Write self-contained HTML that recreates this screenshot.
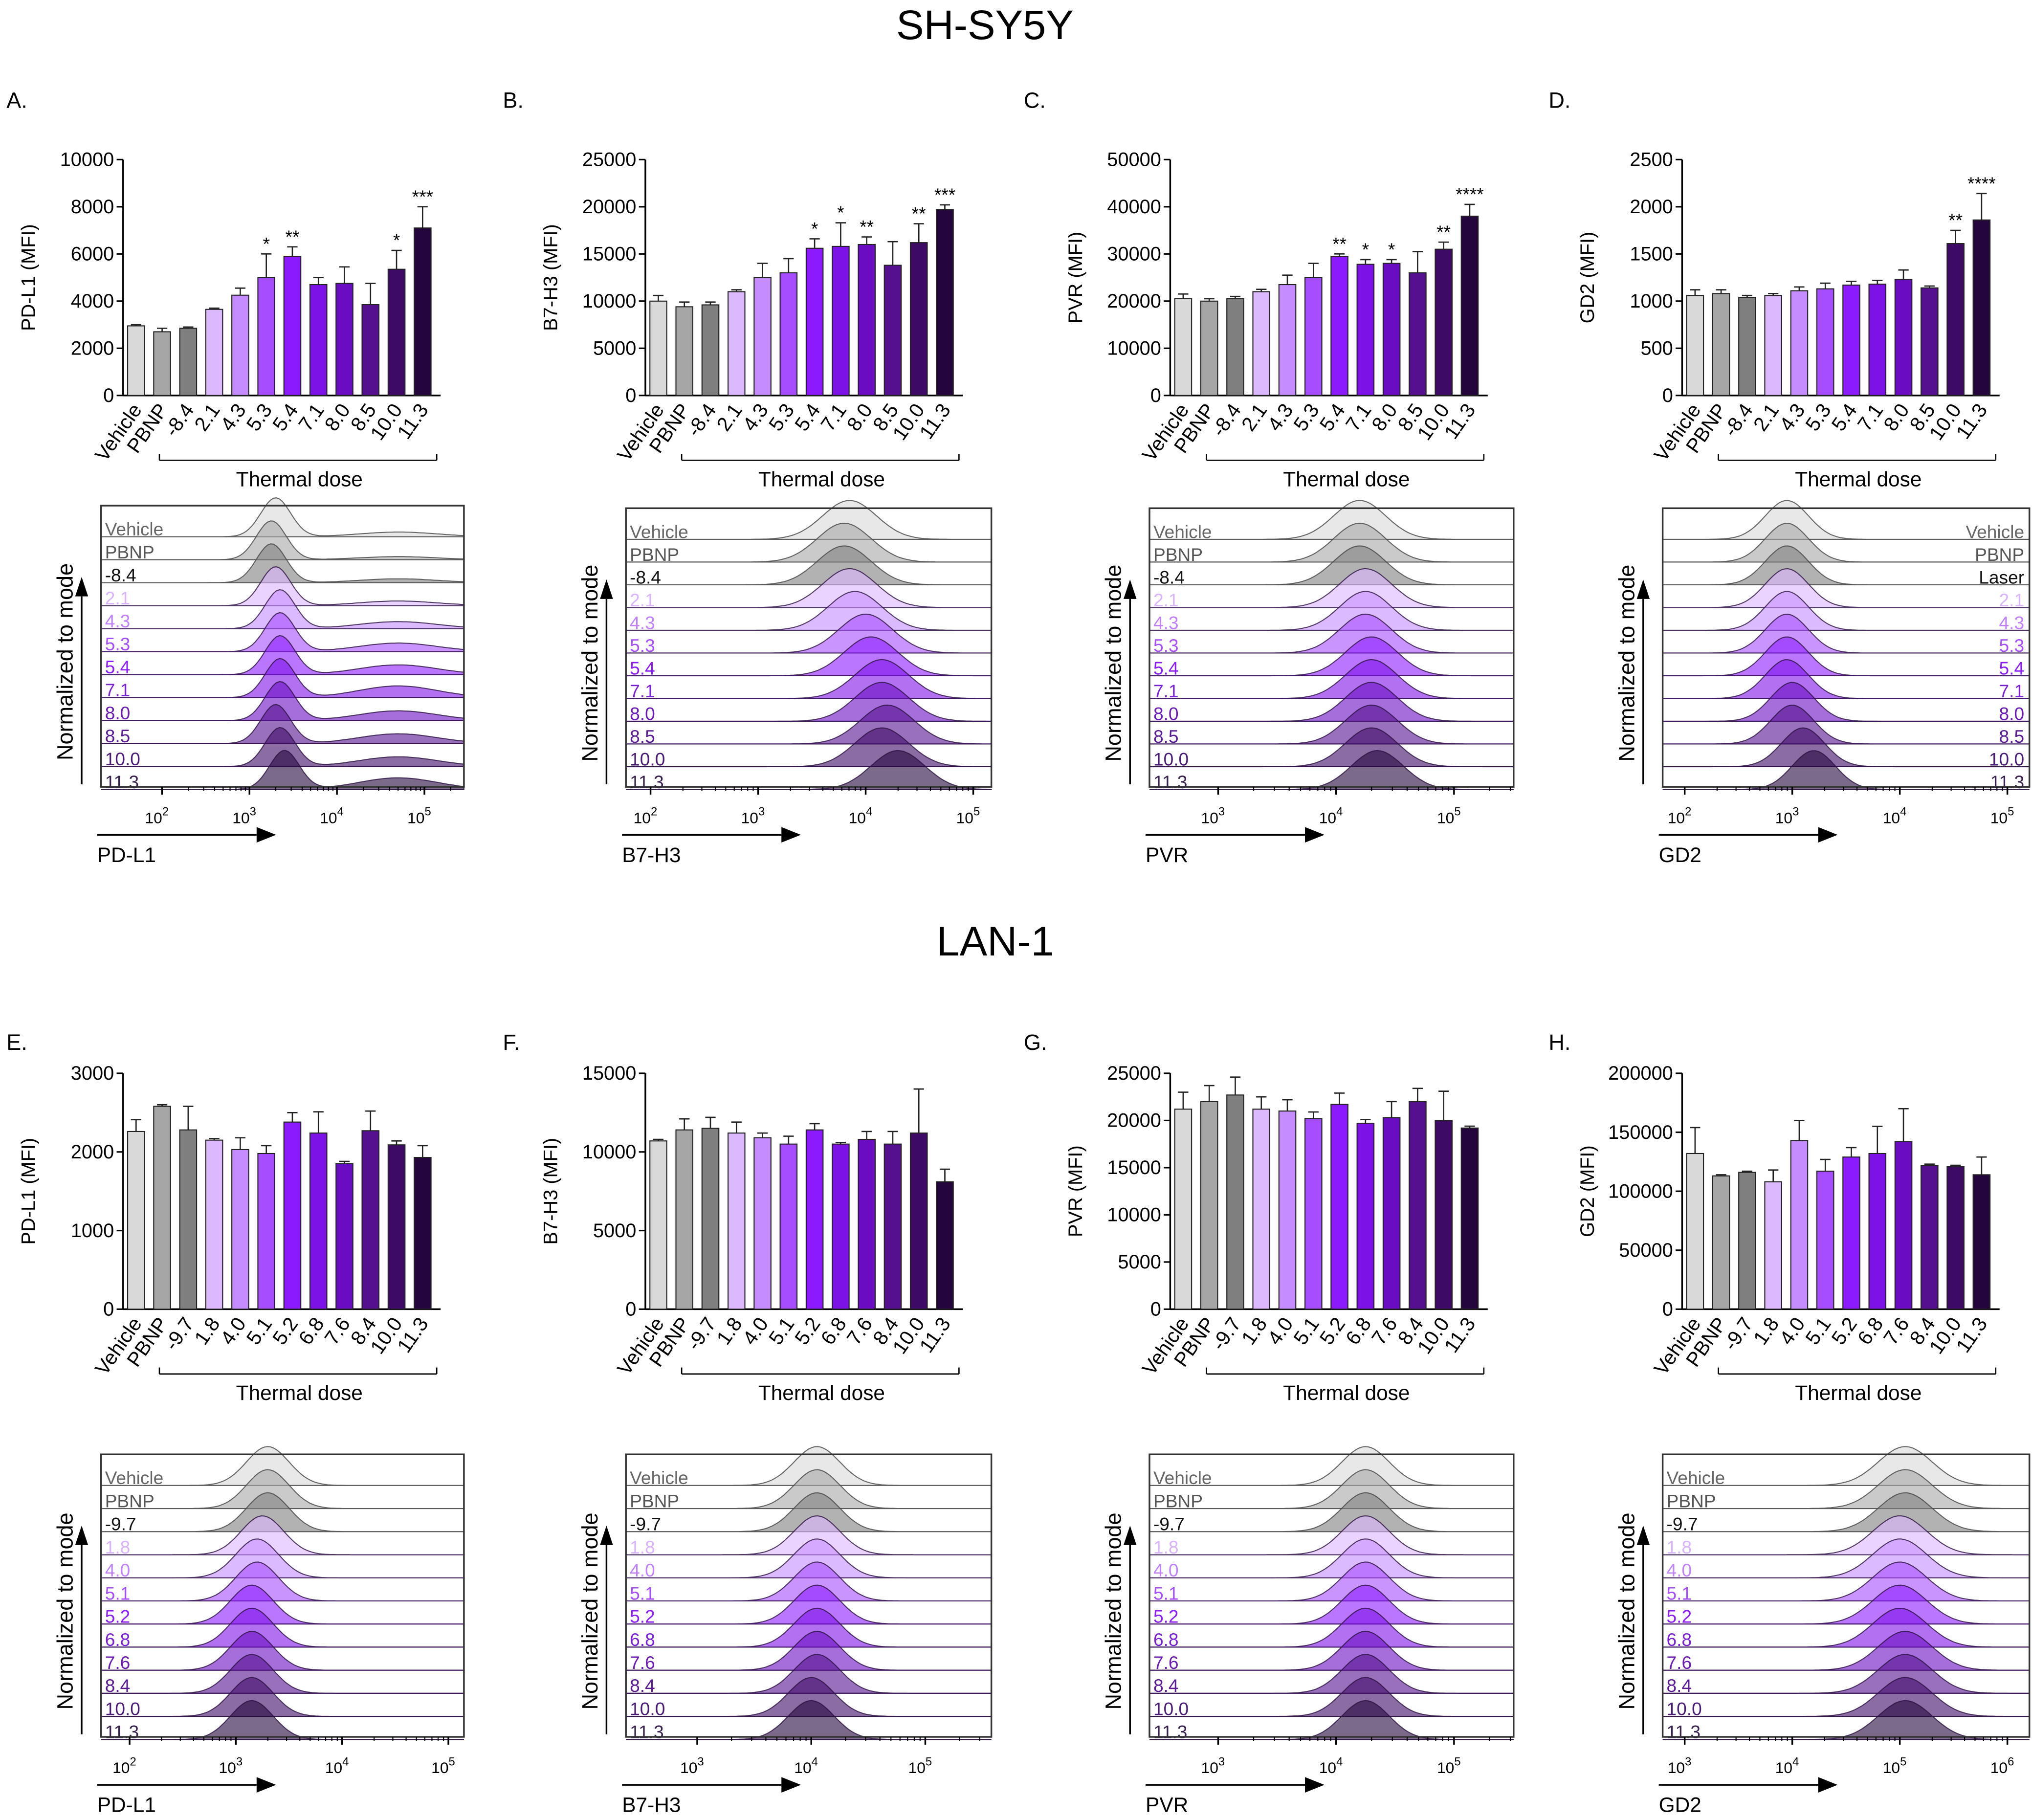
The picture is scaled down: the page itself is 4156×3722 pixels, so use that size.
<!DOCTYPE html>
<html><head><meta charset="utf-8"><style>
html,body{margin:0;padding:0;background:#fff}
svg{display:block}
text{font-family:"Liberation Sans",Arial,sans-serif}
</style></head><body>
<svg id="fig" xmlns="http://www.w3.org/2000/svg" width="4156" height="3722" viewBox="0 0 1568 1404">
<rect width="1568" height="1404" fill="#fff"/>
<text x="760" y="30" font-size="32" text-anchor="middle">SH-SY5Y</text>
<text x="768" y="737" font-size="32" text-anchor="middle">LAN-1</text>
<g id="root"></g>
</svg>
<script>
const catsTop=["Vehicle","PBNP","-8.4","2.1","4.3","5.3","5.4","7.1","8.0","8.5","10.0","11.3"];
const catsBot=["Vehicle","PBNP","-9.7","1.8","4.0","5.1","5.2","6.8","7.6","8.4","10.0","11.3"];
const valsA=[2950,2700,2850,3650,4250,5000,5900,4700,4750,3850,5350,7100];
const errA=[50,150,50,50,300,1000,400,300,700,900,800,900];
const starsA=["","","","","","*","**","","","","*","***"];
const valsB=[10000,9400,9600,11000,12500,13000,15600,15800,16000,13800,16200,19700];
const errB=[600,500,300,200,1500,1500,1000,2500,800,2500,2000,500];
const starsB=["","","","","","","*","*","**","","**","***"];
const valsC=[20500,20000,20500,22000,23500,25000,29500,27800,28000,26000,31000,38000];
const errC=[1000,500,500,500,2000,3000,500,1000,800,4500,1500,2500];
const starsC=["","","","","","","**","*","*","","**","****"];
const valsD=[1060,1080,1040,1060,1110,1130,1170,1180,1230,1140,1610,1860];
const errD=[60,40,20,20,40,60,40,40,100,20,140,280];
const starsD=["","","","","","","","","","","**","****"];
const valsE=[2260,2580,2280,2150,2030,1980,2380,2240,1850,2270,2090,1930];
const errE=[150,20,300,20,150,100,120,270,30,250,50,150];
const valsF=[10700,11400,11500,11200,10900,10500,11400,10500,10800,10500,11200,8100];
const errF=[100,700,700,700,300,500,400,100,500,800,2800,800];
const valsG=[21200,22000,22700,21200,21000,20200,21700,19700,20300,22000,20000,19200];
const errG=[1800,1700,1900,1300,1200,700,1200,400,1700,1400,3100,200];
const valsH=[132000,113000,116000,108000,143000,117000,129000,132000,142000,122000,121000,114000];
const errH=[22000,1000,1000,10000,17000,10000,8000,23000,28000,1000,1000,15000];
const noStars=["","","","","","","","","","","",""];
// histogram peak positions (log10 MFI) per row
const peakA=[3.3,3.25,3.25,3.3,3.35,3.35,3.35,3.35,3.35,3.3,3.35,3.4];
const shoulderA=[0.12,0.08,0.1,0.12,0.18,0.22,0.25,0.3,0.25,0.25,0.25,0.3];
const peakB=[3.85,3.8,3.8,3.85,3.9,4.0,4.05,4.15,4.15,4.2,4.15,4.3];
const peakC=[4.2,4.2,4.2,4.25,4.25,4.25,4.3,4.3,4.3,4.3,4.3,4.35];
const peakD=[2.95,2.95,2.95,2.95,2.95,2.95,2.95,2.95,3.0,3.0,3.1,3.2];
const peakE=[3.3,3.3,3.3,3.25,3.2,3.2,3.15,3.15,3.15,3.15,3.15,3.15];
const peakF=[4.05,4.05,4.05,4.05,4.05,4.05,4.05,4.05,4.05,4.05,4.0,4.0];
const peakG=[4.25,4.25,4.25,4.25,4.25,4.25,4.25,4.25,4.25,4.25,4.25,4.25];
const peakH=[5.05,5.05,5.05,5.0,5.0,5.0,5.0,5.0,5.05,5.05,5.05,5.05];
const zeros=[0,0,0,0,0,0,0,0,0,0,0,0];

const pal=['#d9d9d9','#a6a6a6','#7f7f7f','#dcb8ff','#c58cff','#a64dff','#8c1aff','#7d12e6','#6a0dc2','#55108f','#3d0a66','#24063d'];
const lblCol=['#666','#555','#111','#d9b3ff','#c080ff','#a64dff','#8c1aff','#7a1fd6','#6a1bb5','#5a1a96','#4a1a78','#38204f'];
const NS="http://www.w3.org/2000/svg";
const root=document.getElementById('root');
function mk(tag,attrs,parent,txt){const e=document.createElementNS(NS,tag);for(const k in attrs)e.setAttribute(k,attrs[k]);if(txt!==undefined)e.textContent=txt;(parent||root).appendChild(e);return e;}

function barChart(letter,lx,ly,ax,top,max,nt,vals,errs,stars,cats,ytitle){
  const g=mk('g',{});
  
  
  const H=182,bottom=top+H;
  const y=v=>bottom-v/max*H;
  const cx=i=>ax+10+i*20.1;
  const L=mk('text',{x:lx,y:ly,'font-size':17},g,letter+'.');
  
  
  for(let t=0;t<=nt;t++){
    const v=max/nt*t;
    mk('line',{x1:ax-5,x2:ax,y1:y(v),y2:y(v),stroke:'#000','stroke-width':1.2},g);
    const tl=mk('text',{x:ax-7,y:y(v)+5,'font-size':15,'text-anchor':'end'},g,String(v));
    
    
  }
  mk('line',{x1:ax,x2:ax,y1:top,y2:bottom,stroke:'#000','stroke-width':1.3},g);
  mk('line',{x1:ax,x2:ax+245,y1:bottom,y2:bottom,stroke:'#000','stroke-width':1.3},g);
  const yt=mk('text',{x:0,y:0,'font-size':15,'text-anchor':'middle',transform:`translate(${ax-68},${top+91}) rotate(-90)`},g,ytitle);
  
  
  vals.forEach((v,i)=>{
    const x=cx(i);
    const r=mk('rect',{x:x-6.5,y:y(v),width:13,height:bottom-y(v),fill:pal[i],stroke:'#222','stroke-width':0.8},g);
    
    
    const ye=y(v+errs[i]);
    mk('line',{x1:x,x2:x,y1:y(v),y2:ye,stroke:'#222','stroke-width':1},g);
    mk('line',{x1:x-4,x2:x+4,y1:ye,y2:ye,stroke:'#222','stroke-width':1},g);
    if(stars[i]){const s=mk('text',{x:x,y:ye-3,'font-size':14,'text-anchor':'middle'},g,stars[i]);
      }
    const c=mk('text',{x:0,y:0,'font-size':15.5,'text-anchor':'end',transform:`translate(${x+5},${bottom+11}) rotate(-55)`},g,cats[i]);
    
    
  });
  const by=bottom+50;
  mk('line',{x1:ax+28,x2:ax+242,y1:by,y2:by,stroke:'#000','stroke-width':1},g);
  mk('line',{x1:ax+28,x2:ax+28,y1:by-5,y2:by,stroke:'#000','stroke-width':1},g);
  mk('line',{x1:ax+242,x2:ax+242,y1:by-5,y2:by,stroke:'#000','stroke-width':1},g);
  const td=mk('text',{x:ax+136,y:by+20,'font-size':16,'text-anchor':'middle'},g,'Thermal dose');
  
  
}

function histo(letter,x1,y1,x2,y2,d0,x0,dw,decades,peaks,shoulder,shPos,width,labels,rightLabels,marker){
  const g=mk('g',{});
  
  
  const px=l=>x0+(l-d0)*dw;
  const n=peaks.length, step=(y2-y1-22)/(n-1);
  for(let i=0;i<n;i++){
    const base=y1+24+i*step;
    mk('line',{x1:x1,x2:x2,y1:base,y2:base,stroke:i<3?'#aaa':pal[i],'stroke-width':0.8,opacity:0.8},g);
  }
  for(let i=0;i<n;i++){
    const base=y1+24+i*step, h=30;
    let pts=[];
    const lmin=d0+(x1-x0)/dw, lmax=d0+(x2-x0)/dw;
    for(let k=0;k<=120;k++){
      const l=lmin+(lmax-lmin)*k/120;
      let f=Math.exp(-Math.pow(l-peaks[i],2)/(2*width*width))+shoulder[i]*Math.exp(-Math.pow(l-shPos,2)/(2*0.45*0.45));
      f=Math.min(f,1.05);
      pts.push([px(l),base-h*f]);
    }
    const d='M'+pts.map(p=>p[0].toFixed(1)+','+p[1].toFixed(1)).join(' L')+` L${x2},${base} L${x1},${base} Z`;
    const p=mk('path',{d:d,fill:pal[i],'fill-opacity':0.6,stroke:i<3?'#444':'#2a1040','stroke-width':0.8,'stroke-opacity':0.8},g);
    
    
    const t=mk('text',{x:rightLabels?x2-4:x1+3,y:base-1,'font-size':14,'text-anchor':rightLabels?'end':'start',fill:lblCol[i]},g,labels[i]);
    
    
  }
  mk('rect',{x:x1,y:y1,width:x2-x1,height:y2-y1,fill:'none',stroke:'#333','stroke-width':1.3},g);
  decades.forEach(dd=>{
    const x=px(dd);
    if(x<x1-2||x>x2+2)return;
    mk('line',{x1:x,x2:x,y1:y2,y2:y2+6,stroke:'#000','stroke-width':1.3},g);
    for(let m=2;m<10;m++){const xm=px(dd+Math.log10(m));if(xm<x2&&xm>x1)mk('line',{x1:xm,x2:xm,y1:y2,y2:y2+3,stroke:'#000','stroke-width':0.8},g);}
    const t=mk('text',{x:x-4,y:y2+28,'font-size':12,'text-anchor':'middle'},g);
    
    
    mk('tspan',{},t,'10');
    mk('tspan',{dy:-6,'font-size':9},t,String(dd));
  });
  mk('line',{x1:x1-3,x2:x1+120,y1:y2+37,y2:y2+37,stroke:'#000','stroke-width':1.3},g);
  mk('path',{d:`M${x1+120},${y2+31} L${x1+135},${y2+37} L${x1+120},${y2+43} Z`,fill:'#000'},g);
  const mt=mk('text',{x:x1-3,y:y2+58,'font-size':16},g,marker);
  
  
  mk('line',{x1:x1-15,x2:x1-15,y1:y2-2,y2:y1+70,stroke:'#000','stroke-width':1.3},g);
  mk('path',{d:`M${x1-20},${y1+70} L${x1-15},${y1+55} L${x1-10},${y1+70} Z`,fill:'#000'},g);
  const yt=mk('text',{x:0,y:0,'font-size':17,'text-anchor':'middle',transform:`translate(${x1-22},${(y1+y2)/2+12}) rotate(-90)`},g,'Normalized to mode');
  
  
}

barChart('A',5,83,95,123,10000,5,valsA,errA,starsA,catsTop,'PD-L1 (MFI)');
barChart('B',388,83,498,123,25000,5,valsB,errB,starsB,catsTop,'B7-H3 (MFI)');
barChart('C',790,83,903,123,50000,5,valsC,errC,starsC,catsTop,'PVR (MFI)');
barChart('D',1195,83,1298,123,2500,5,valsD,errD,starsD,catsTop,'GD2 (MFI)');
barChart('E',5,810,95,828,3000,3,valsE,errE,noStars,catsBot,'PD-L1 (MFI)');
barChart('F',388,810,498,828,15000,3,valsF,errF,noStars,catsBot,'B7-H3 (MFI)');
barChart('G',790,810,903,828,25000,5,valsG,errG,noStars,catsBot,'PVR (MFI)');
barChart('H',1195,810,1298,828,200000,4,valsH,errH,noStars,catsBot,'GD2 (MFI)');

const labD=["Vehicle","PBNP","Laser","2.1","4.3","5.3","5.4","7.1","8.0","8.5","10.0","11.3"];
histo('A',78,390,358,607,2,125,67.5,[2,3,4,5],peakA,shoulderA,4.7,0.17,catsTop,false,'PD-L1');
histo('B',483,392,765,607,2,502,83,[2,3,4,5],peakB,zeros,4.5,0.25,catsTop,false,'B7-H3');
histo('C',887,392,1168,607,3,940,91,[3,4,5],peakC,zeros,4.5,0.22,catsTop,false,'PVR');
histo('D',1283,392,1566,607,2,1300,83,[2,3,4,5],peakD,zeros,4.5,0.2,labD,true,'GD2');
histo('E',78,1122,358,1340,2,100,82,[2,3,4,5],peakE,zeros,4.5,0.2,catsBot,false,'PD-L1');
histo('F',483,1122,765,1340,3,538,88,[3,4,5],peakF,zeros,4.5,0.2,catsBot,false,'B7-H3');
histo('G',887,1122,1168,1340,3,940,91,[3,4,5],peakG,zeros,4.5,0.2,catsBot,false,'PVR');
histo('H',1283,1122,1566,1340,3,1300,83,[3,4,5,6],peakH,zeros,4.5,0.25,catsBot,false,'GD2');
</script>
</body></html>
